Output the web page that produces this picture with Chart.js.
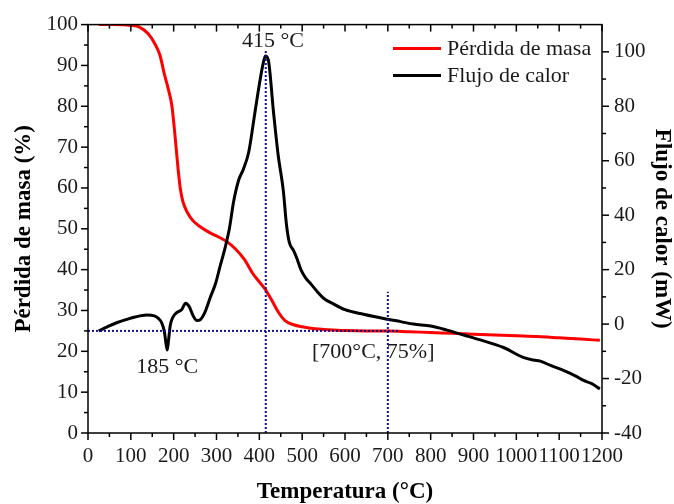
<!DOCTYPE html>
<html>
<head>
<meta charset="utf-8">
<script src="https://cdn.jsdelivr.net/npm/chart.js@4.4.0/dist/chart.umd.min.js"></script>
<style>
  html, body { margin: 0; padding: 0; background: #fff; }
</style>
</head>
<body>
<canvas id="chart" width="674" height="504"></canvas>
<script>
// TGA / DSC data
const massTemp = [25, 60, 100, 120, 140, 155, 168, 178, 188, 196, 203, 210, 216, 222, 232, 245, 262, 285, 305, 325, 345, 365, 385, 400, 415, 430, 445, 460, 480, 500, 530, 560, 600, 650, 700, 750, 800, 850, 900, 950, 1000, 1050, 1100, 1150, 1195];
const massLoss = [100, 100, 99.8, 99.4, 97.8, 95.5, 92.5, 88, 84, 80, 73, 65, 59.5, 56.5, 54, 52, 50.5, 49, 48, 46.8, 45, 42.5, 39, 37, 35, 32.3, 29.5, 27.5, 26.5, 26, 25.5, 25.3, 25.1, 25, 25, 24.8, 24.6, 24.4, 24.2, 24, 23.8, 23.6, 23.3, 23, 22.7];

const heatTemp = [25, 45, 67, 90, 110, 137, 155, 165, 172, 178, 182, 185, 188, 192, 198, 207, 219, 228, 236, 246, 254, 262, 272, 285, 298, 308, 320, 330, 340, 352, 363, 375, 390, 400, 408, 414, 421, 433, 444, 456, 463, 470, 480, 488, 497, 508, 519, 535, 550, 572, 600, 643, 698, 730, 760, 800, 838, 877, 916, 970, 1016, 1040, 1056, 1080, 1110, 1140, 1157, 1175, 1195];
const heatFlow = [-2.5, -1, 0.5, 1.7, 2.6, 3.3, 3.0, 2.0, 0.5, -2.5, -7, -9.5, -6, -0.5, 2.5, 4.2, 5.4, 7.7, 6.5, 2.9, 1.3, 1.6, 4, 9.6, 15, 21, 28, 35, 45, 53, 57, 63, 78, 88, 95, 98.5, 97, 78, 62, 49, 37, 30, 27, 24, 20, 17, 15, 12, 9.5, 7.5, 5.3, 3.6, 1.8, 0.9, 0, -0.7, -2.2, -4, -5.8, -8.6, -12.2, -13.2, -13.6, -15.2, -17, -19.2, -20.7, -21.8, -23.8];

// reference guides: [x, y] pairs on the mass axis
const guidePeak = [[415, 0], [415, 94]];
const guide700 = [[700, 0], [700, 34.6]];
const guideMass = [[0, 25], [724, 25]];

// tick labels
const tempTicks = [0, 100, 200, 300, 400, 500, 600, 700, 800, 900, 1000, 1100, 1200];
const massTicks = [0, 10, 20, 30, 40, 50, 60, 70, 80, 90, 100];
const heatTicks = [-40, -20, 0, 20, 40, 60, 80, 100];

const SERIF = '"Liberation Serif", "Times New Roman", serif';
const INK = '#1a1a1a';
const GUIDE = '#10108a';

const toPts = (xs, ys) => xs.map((x, i) => ({ x, y: ys[i] }));
const pairPts = (arr) => arr.map(([x, y]) => ({ x, y }));

const guideStyle = {
  borderColor: GUIDE,
  borderWidth: 2,
  borderDash: [2, 2],
  pointRadius: 0,
  tension: 0,
  yAxisID: 'y',
  order: 0,
};

const decor = {
  id: 'decor',
  afterDatasetsDraw(chart) {
    const { ctx, chartArea: a, scales } = chart;
    ctx.save();
    ctx.strokeStyle = '#000';
    ctx.lineWidth = 1.5;
    ctx.strokeRect(a.left, a.top, a.right - a.left, a.bottom - a.top);

    const line = (x1, y1, x2, y2) => {
      ctx.beginPath();
      ctx.moveTo(x1, y1);
      ctx.lineTo(x2, y2);
      ctx.stroke();
    };
    const withMinor = (majors) => {
      const out = [];
      majors.forEach((v, i) => {
        out.push([v, true]);
        if (i < majors.length - 1) out.push([(v + majors[i + 1]) / 2, false]);
      });
      return out;
    };

    withMinor(tempTicks).forEach(([v, major]) => {
      const px = scales.x.getPixelForValue(v);
      const len = major ? 7 : 4;
      line(px, a.bottom, px, a.bottom + len);
      line(px, a.top, px, a.top + len);
    });
    withMinor(massTicks).forEach(([v, major]) => {
      const py = scales.y.getPixelForValue(v);
      line(a.left, py, a.left - (major ? 7 : 4), py);
    });
    withMinor(heatTicks).forEach(([v, major]) => {
      const py = scales.y1.getPixelForValue(v);
      line(a.right, py, a.right + (major ? 7 : 4), py);
    });

    // annotations
    ctx.fillStyle = INK;
    ctx.font = '22px ' + SERIF;
    ctx.textAlign = 'center';
    ctx.textBaseline = 'middle';
    const put = (text, x, y) => ctx.fillText(text, scales.x.getPixelForValue(x), scales.y.getPixelForValue(y));
    put('415 °C', 432, 96);
    put('185 °C', 185, 16);
    put('[700°C, 75%]', 666, 19.9);

    // legend
    ctx.textAlign = 'left';
    chart.data.datasets.filter(d => !d.isGuide).forEach((d, i) => {
      const y = a.top + 25 + i * 27;
      ctx.strokeStyle = d.borderColor;
      ctx.lineWidth = 3;
      line(a.left + 305, y - 1, a.left + 353, y - 1);
      ctx.fillText(d.label, a.left + 359, y);
    });
    ctx.restore();
  }
};

const fixTicks = (values) => (scale) => {
  scale.ticks = values.map(v => ({ value: v }));
};
const plain = (v) => String(v);
const tickFont = { family: SERIF, size: 21 };
const titleFont = { family: SERIF, size: 23, weight: 'bold' };

new Chart(document.getElementById('chart'), {
  type: 'line',
  data: {
    datasets: [
      {
        label: 'Pérdida de masa',
        data: toPts(massTemp, massLoss),
        borderColor: '#ff0000',
        borderWidth: 3,
        pointRadius: 0,
        cubicInterpolationMode: 'monotone',
        yAxisID: 'y',
        order: 2,
      },
      {
        label: 'Flujo de calor',
        data: toPts(heatTemp, heatFlow),
        borderColor: '#000000',
        borderWidth: 3,
        pointRadius: 0,
        cubicInterpolationMode: 'monotone',
        yAxisID: 'y1',
        order: 1,
      },
      { ...guideStyle, label: 'g1', isGuide: true, data: pairPts(guidePeak) },
      { ...guideStyle, label: 'g2', isGuide: true, data: pairPts(guide700) },
      { ...guideStyle, label: 'g3', isGuide: true, data: pairPts(guideMass) },
    ],
  },
  options: {
    responsive: false,
    animation: false,
    layout: { padding: { top: 20, left: 0, right: 0, bottom: 0 } },
    plugins: {
      legend: { display: false },
      tooltip: { enabled: false },
    },
    scales: {
      x: {
        type: 'linear',
        min: 0,
        max: 1200,
        grid: { display: false, drawTicks: false },
        border: { display: false },
        afterBuildTicks: fixTicks(tempTicks),
        afterFit: (s) => { s.height = 71; },
        ticks: { autoSkip: false, maxRotation: 0, padding: 11, color: INK, font: tickFont, callback: plain },
        title: {
          display: true,
          text: 'Temperatura (°C)',
          color: '#000',
          font: titleFont,
          padding: { top: 0, bottom: -2 },
        },
      },
      y: {
        position: 'left',
        min: 0,
        max: 100,
        grid: { display: false, drawTicks: false },
        border: { display: false },
        afterBuildTicks: fixTicks(massTicks),
        afterFit: (s) => { s.width = 88; },
        ticks: { autoSkip: false, padding: 10, color: INK, font: tickFont, callback: plain },
        title: {
          display: true,
          text: 'Pérdida de masa (%)',
          color: '#000',
          font: titleFont,
          padding: { top: 10, bottom: 0 },
        },
      },
      y1: {
        position: 'right',
        min: -40,
        max: 110,
        grid: { display: false, drawTicks: false },
        border: { display: false },
        afterBuildTicks: fixTicks(heatTicks),
        afterFit: (s) => { s.width = 72; },
        ticks: { autoSkip: false, padding: 12, color: INK, font: tickFont, callback: plain },
        title: {
          display: true,
          text: 'Flujo de calor (mW)',
          color: '#000',
          font: titleFont,
          padding: { top: -2, bottom: 0 },
        },
      },
    },
  },
  plugins: [decor],
});
</script>
</body>
</html>
